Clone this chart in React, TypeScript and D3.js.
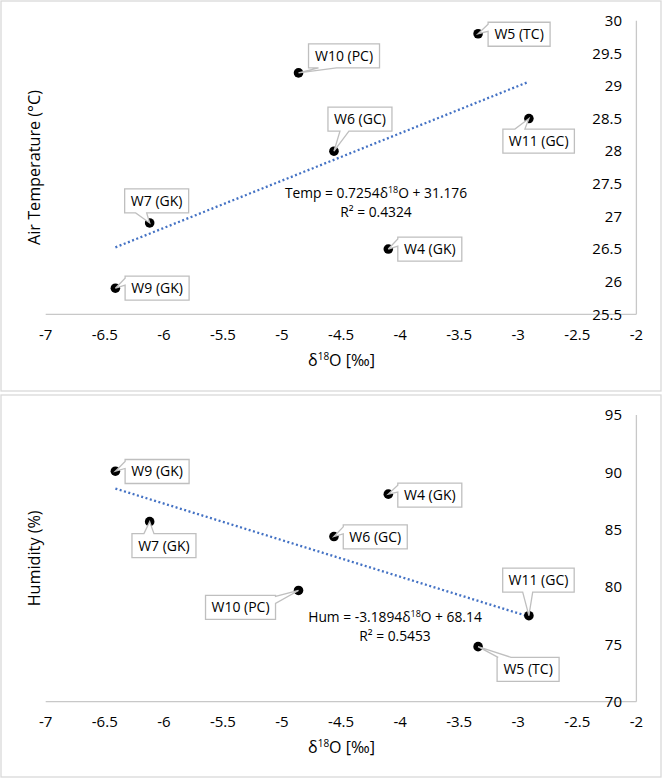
import React from 'react';
import * as d3 from 'd3';

// sampling sites and measured values
const sites = ['W4 (GK)', 'W5 (TC)', 'W6 (GC)', 'W7 (GK)', 'W9 (GK)', 'W10 (PC)', 'W11 (GC)'];
const d18O = [-4.1, -3.34, -4.56, -6.12, -6.41, -4.86, -2.91];
const airTemp = [26.5, 29.8, 28.0, 26.9, 25.9, 29.2, 28.5];
const humidity = [88.1, 74.8, 84.4, 85.7, 90.1, 79.7, 77.5];

const xTicks = [-7, -6.5, -6, -5.5, -5, -4.5, -4, -3.5, -3, -2.5, -2];
const tempTicks = [25.5, 26, 26.5, 27, 27.5, 28, 28.5, 29, 29.5, 30];
const humTicks = [70, 75, 80, 85, 90, 95];

// linear fits as printed on the chart
const tempFit = { name: 'Temp', slope: 0.7254, intercept: 31.176, slopeText: '0.7254', interceptText: '31.176', r2: '0.4324' };
const humFit = { name: 'Hum', slope: -3.1894, intercept: 68.14, slopeText: '-3.1894', interceptText: '68.14', r2: '0.5453' };

// callout layout: box offset from the point, box width, side of the pointer and its base
type Callout = { dx: number; dy: number; w: number; side: string; a: number; b: number };
const tempCallouts: Record<string, Callout> = {
  'W4 (GK)': { dx: 9.5, dy: -12, w: 64, side: 'left', a: 2, b: 9 },
  'W5 (TC)': { dx: 10, dy: -11.5, w: 62, side: 'left', a: 2, b: 9 },
  'W6 (GC)': { dx: -6, dy: -44, w: 64, side: 'bottom', a: 12, b: 21 },
  'W7 (GK)': { dx: -25, dy: -34, w: 64, side: 'bottom', a: 11, b: 22 },
  'W9 (GK)': { dx: 9.7, dy: -12, w: 64, side: 'left', a: 2, b: 9 },
  'W10 (PC)': { dx: 10, dy: -29, w: 71, side: 'bottom', a: 10, b: 28 },
  'W11 (GC)': { dx: -26, dy: 10.5, w: 71.5, side: 'top', a: 12, b: 22 },
};
const humCallouts: Record<string, Callout> = {
  'W4 (GK)': { dx: 9.5, dy: -11, w: 64, side: 'left', a: 2, b: 9 },
  'W5 (TC)': { dx: 19, dy: 10.7, w: 62, side: 'top', a: 1, b: 14 },
  'W6 (GC)': { dx: 9.3, dy: -11.7, w: 64, side: 'left', a: 2, b: 9 },
  'W7 (GK)': { dx: -17.7, dy: 12, w: 64, side: 'top', a: 12, b: 22 },
  'W9 (GK)': { dx: 9.7, dy: -11.7, w: 64, side: 'left', a: 2, b: 9 },
  'W10 (PC)': { dx: -93, dy: 5, w: 70, side: 'right', a: 1, b: 8 },
  'W11 (GC)': { dx: -26.2, dy: -47.6, w: 71.5, side: 'bottom', a: 20, b: 30 },
};

const FONT = '"Open Sans", sans-serif';
const GRID = '#d9d9d9';
const AXIS = '#c8c8c8';
const TEXT = '#000';

function calloutPath(x0: number, y0: number, w: number, h: number, c: Callout, tx: number, ty: number) {
  const x1 = x0 + w, y1 = y0 + h;
  if (c.side === 'top')
    return `M${x0},${y0}H${x0 + c.a}L${tx},${ty}L${x0 + c.b},${y0}H${x1}V${y1}H${x0}Z`;
  if (c.side === 'right')
    return `M${x0},${y0}H${x1}V${y0 + c.a}L${tx},${ty}L${x1},${y0 + c.b}V${y1}H${x0}Z`;
  if (c.side === 'bottom')
    return `M${x0},${y0}H${x1}V${y1}H${x0 + c.b}L${tx},${ty}L${x0 + c.a},${y1}H${x0}Z`;
  return `M${x0},${y0}H${x1}V${y1}H${x0}V${y0 + c.b}L${tx},${ty}L${x0},${y0 + c.a}Z`;
}

type PanelProps = {
  boxTop: number; boxBottom: number;
  plotTop: number; plotBottom: number;
  yTicks: number[]; yValues: number[];
  fit: typeof tempFit; yTitle: string;
  callouts: Record<string, Callout>;
  eqX: number; eqY: number;
};

function Panel(p: PanelProps) {
  const x = d3.scaleLinear().domain([-7, -2]).range([45.7, 636.4]);
  const y = d3.scaleLinear().domain(d3.extent(p.yTicks) as [number, number]).range([p.plotBottom, p.plotTop]);
  const [xmin, xmax] = d3.extent(d18O) as [number, number];
  const fitLine = d3.line<number>().x(d => x(d)).y(d => y(p.fit.slope * d + p.fit.intercept));
  const midY = (p.plotTop + p.plotBottom) / 2;

  return (
    <g fontFamily={FONT} fill={TEXT}>
      <rect x={1} y={p.boxTop} width={660} height={p.boxBottom - p.boxTop} fill="#fff" stroke={GRID} strokeWidth={1.3} />
      {/* axes */}
      <line x1={x(-7)} x2={x(-2)} y1={p.plotBottom} y2={p.plotBottom} stroke={AXIS} strokeWidth={1.3} />
      <line x1={x(-2)} x2={x(-2)} y1={p.plotTop} y2={p.plotBottom} stroke={AXIS} strokeWidth={1.3} />
      {p.yTicks.map(t => (
        <text key={t} x={622} y={y(t)} dy="0.35em" textAnchor="end" fontSize={15}>{t}</text>
      ))}
      {xTicks.map(t => (
        <text key={t} x={x(t)} y={p.plotBottom + 20} dy="0.35em" textAnchor="middle" fontSize={15}>{t}</text>
      ))}
      <text transform={`translate(34,${midY}) rotate(-90)`} dy="0.35em" textAnchor="middle" fontSize={16.2}>{p.yTitle}</text>
      <text x={341.5} y={p.plotBottom + 46} dy="0.35em" textAnchor="middle" fontSize={16}>
        δ<tspan dy={-6} fontSize={10}>18</tspan><tspan dy={6}>O [‰]</tspan>
      </text>
      {/* trendline */}
      <path d={fitLine([xmin, xmax]) || ''} fill="none" stroke="#4472C4" strokeWidth={2.3} strokeDasharray="2 2.5" />
      <text x={p.eqX} y={p.eqY} textAnchor="middle" fontSize={13.8}>
        {p.fit.name} = {p.fit.slopeText}δ<tspan dy={-5} fontSize={9}>18</tspan><tspan dy={5}>O + {p.fit.interceptText}</tspan>
      </text>
      <text x={p.eqX} y={p.eqY + 19} textAnchor="middle" fontSize={13.8}>R² = {p.fit.r2}</text>
      {/* markers */}
      {d18O.map((v, i) => (
        <circle key={sites[i]} cx={x(v)} cy={y(p.yValues[i])} r={4.8} fill="#000" />
      ))}
      {/* data callouts */}
      {d18O.map((v, i) => {
        const px = x(v), py = y(p.yValues[i]);
        const c = p.callouts[sites[i]];
        const bx = px + c.dx, by = py + c.dy, h = 24;
        return (
          <g key={'c' + sites[i]}>
            <path d={calloutPath(bx, by, c.w, h, c, px, py)} fill="#fff" stroke="#bfbfbf" strokeWidth={1.3} />
            <text x={bx + c.w / 2} y={by + h / 2} dy="0.35em" textAnchor="middle" fontSize={14}>{sites[i]}</text>
          </g>
        );
      })}
    </g>
  );
}

export default function App() {
  return (
    <svg width={663} height={779} style={{ position: 'absolute', left: 0, top: 0, background: '#fff' }}>
      <Panel boxTop={1} boxBottom={391} plotTop={20.7} plotBottom={314.3}
        yTicks={tempTicks} yValues={airTemp} fit={tempFit} yTitle="Air Temperature (°C)"
        callouts={tempCallouts} eqX={376} eqY={198} />
      <Panel boxTop={395} boxBottom={777} plotTop={415} plotBottom={701.7}
        yTicks={humTicks} yValues={humidity} fit={humFit} yTitle="Humidity (%)"
        callouts={humCallouts} eqX={395} eqY={622} />
    </svg>
  );
}
